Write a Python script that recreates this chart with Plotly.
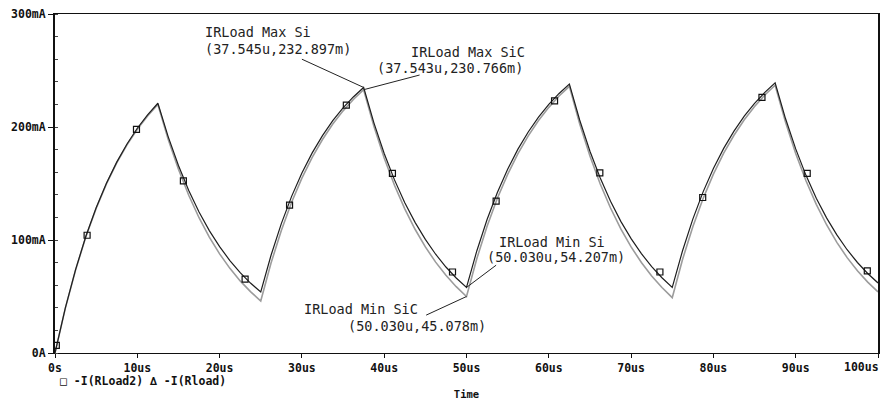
import plotly.graph_objects as go

# ---- data (time in microseconds, current in mA) ----
t_us = [0, 1.25, 2.5, 3.75, 5, 6.25, 7.5, 8.75, 10, 11.25, 12.5,
        13.75, 15, 16.25, 17.5, 18.75, 20, 21.25, 22.5, 23.75, 25,
        26.25, 27.5, 28.75, 30, 31.25, 32.5, 33.75, 35, 36.25, 37.5,
        38.75, 40, 41.25, 42.5, 43.75, 45, 46.25, 47.5, 48.75, 50,
        51.25, 52.5, 53.75, 55, 56.25, 57.5, 58.75, 60, 61.25, 62.5,
        63.75, 65, 66.25, 67.5, 68.75, 70, 71.25, 72.5, 73.75, 75,
        76.25, 77.5, 78.75, 80, 81.25, 82.5, 83.75, 85, 86.25, 87.5,
        88.75, 90, 91.25, 92.5, 93.75, 95, 96.25, 97.5, 98.75, 100]

i_si = [0, 39.7, 73.8, 103.3, 128.5, 150.3, 168.9, 185.0, 198.9, 210.8, 221,
        191.5, 165.9, 143.8, 124.8, 108.3, 94.1, 81.8, 71.1, 61.9, 54,
        86.5, 114.5, 138.6, 159.2, 177.1, 192.4, 205.6, 216.9, 226.6, 235,
        203.7, 176.6, 153.2, 133.0, 115.6, 100.5, 87.4, 76.1, 66.4, 58,
        90.3, 118.1, 142.1, 162.7, 180.4, 195.6, 208.7, 220.0, 229.7, 238,
        206.2, 178.6, 154.8, 134.3, 116.5, 101.2, 87.9, 76.5, 66.6, 58,
        90.5, 118.5, 142.6, 163.2, 181.1, 196.4, 209.6, 220.9, 230.6, 239,
        207.7, 180.6, 157.2, 137.0, 119.6, 104.5, 91.4, 80.1, 70.4, 62]

i_sic = [0, 39.5, 73.5, 102.8, 127.9, 149.6, 168.2, 184.2, 198.0, 209.8, 220,
         189.2, 162.6, 139.6, 119.7, 102.6, 87.7, 74.9, 63.8, 54.3, 46,
         79.6, 108.5, 133.4, 154.7, 173.1, 188.9, 202.6, 214.3, 224.3, 233,
         200.6, 172.6, 148.4, 127.6, 109.5, 93.9, 80.4, 68.8, 58.7, 50,
         83.4, 112.1, 136.9, 158.1, 176.5, 192.2, 205.7, 217.4, 227.4, 236,
         202.9, 174.3, 149.6, 128.3, 109.8, 93.9, 80.1, 68.2, 57.9, 49,
         82.8, 111.8, 136.8, 158.3, 176.8, 192.7, 206.4, 218.2, 228.3, 237,
         204.6, 176.6, 152.4, 131.6, 113.5, 97.9, 84.4, 72.8, 62.7, 54]

marker_t = [0.16, 3.9, 9.9, 15.6, 23.1, 28.5, 35.4, 41.0, 48.3, 53.6,
            60.7, 66.2, 73.5, 78.7, 85.9, 91.4, 98.7]
marker_si = [6.8, 104.2, 197.9, 152.3, 65.3, 130.8, 219.4, 158.9, 71.7, 134.4,
             223.2, 159.4, 71.7, 137.6, 226.2, 158.9, 72.6]

x_tickvals = [0, 10, 20, 30, 40, 50, 60, 70, 80, 90, 100]
x_ticktext = ["0s", "10us", "20us", "30us", "40us", "50us", "60us", "70us",
              "80us", "90us", ""]
last_x_label = "100us"
y_tickvals = [0, 100, 200, 300]
y_ticktext = ["0A", "100mA", "200mA", "300mA"]

max_si_label = ["IRLoad Max Si", "(37.545u,232.897m)"]
max_sic_label = ["IRLoad Max SiC", "(37.543u,230.766m)"]
min_si_label = ["IRLoad Min Si", "(50.030u,54.207m)"]
min_sic_label = ["IRLoad Min SiC", "(50.030u,45.078m)"]
legend_text = "\u25a1 -I(RLoad2) \u2206 -I(Rload)"
i_max, i_min = 30, 40

fig = go.Figure()
fig.add_trace(go.Scatter(x=t_us, y=i_sic, mode="lines",
                         line=dict(color="#9c9c9c", width=1.6), showlegend=False))
fig.add_trace(go.Scatter(x=t_us, y=i_si, mode="lines",
                         line=dict(color="#1e1e1e", width=1.2), showlegend=False))
fig.add_trace(go.Scatter(x=marker_t, y=marker_si, mode="markers",
                         marker=dict(symbol="square-open", size=6, color="#111",
                                     line=dict(width=1.2, color="#111")),
                         showlegend=False))

txt_font = dict(family="DejaVu Sans Mono", size=13.5, color="#222")


def text_at(x, y, s):
    fig.add_annotation(x=x, y=y, xref="x", yref="y", text=s, showarrow=False,
                       xanchor="left", yanchor="middle", font=txt_font)


text_at(18.0, 284, max_si_label[0])
text_at(18.0, 269, max_si_label[1])
text_at(43.0, 266.6, max_sic_label[0])
text_at(38.9, 251.9, max_sic_label[1])
text_at(53.7, 98.3, min_si_label[0])
text_at(52.3, 85, min_si_label[1])
text_at(30.0, 38.7, min_sic_label[0])
text_at(35.3, 23.6, min_sic_label[1])

# leader lines
lead = dict(color="#222", width=1)
fig.add_shape(type="line", x0=30.0, y0=260, x1=t_us[i_max], y1=i_si[i_max], line=lead)
fig.add_shape(type="line", x0=44.3, y0=246, x1=t_us[i_max], y1=i_sic[i_max], line=lead)
fig.add_shape(type="line", x0=53.6, y0=77.7, x1=t_us[i_min], y1=i_si[i_min], line=lead)
fig.add_shape(type="line", x0=45.1, y0=33.5, x1=t_us[i_min], y1=i_sic[i_min], line=lead)

bold_font = dict(family="DejaVu Sans Mono", size=11.5, color="#111", weight="bold")

W, H, ML, MR, MT, MB = 882, 401, 55, 4, 14, 48
PW, PH = W - ML - MR, H - MT - MB

# legend-like caption (paper coords, below the tick labels)
fig.add_annotation(x=(58 - ML) / PW, y=-(381 - (H - MB)) / PH,
                   xref="paper", yref="paper", text=legend_text,
                   showarrow=False, xanchor="left", yanchor="middle", font=bold_font)
# last x tick label, kept inside the page like in the original
fig.add_annotation(x=(881 - ML) / PW, y=-(367 - (H - MB)) / PH,
                   xref="paper", yref="paper", text=last_x_label,
                   showarrow=False, xanchor="right", yanchor="middle", font=bold_font)

fig.update_layout(
    width=W, height=H,
    margin=dict(l=ML, r=MR, t=MT, b=MB, autoexpand=False),
    paper_bgcolor="white", plot_bgcolor="white",
    font=dict(family="DejaVu Sans Mono", color="#111"),
    xaxis=dict(range=[0, 100], tickvals=x_tickvals, ticktext=x_ticktext,
               ticks="outside", ticklen=4, tickcolor="#111", showgrid=False, zeroline=False,
               showline=True, linecolor="#111", linewidth=1.2, mirror=True,
               tickfont=bold_font, automargin=False,
               title=dict(text="Time", font=dict(family="DejaVu Sans Mono", size=10.5,
                                                 color="#111", weight="bold"), standoff=16)),
    yaxis=dict(range=[0, 300], tickvals=y_tickvals, ticktext=y_ticktext,
               ticks="outside", ticklen=5, tickcolor="#111", showgrid=False, zeroline=False,
               showline=True, linecolor="#111", linewidth=2, mirror=True,
               tickfont=bold_font, automargin=False,
               minor=dict(ticks="inside", ticklen=3, dtick=20, tickcolor="#444")),
)

fig.write_html("out.html")
